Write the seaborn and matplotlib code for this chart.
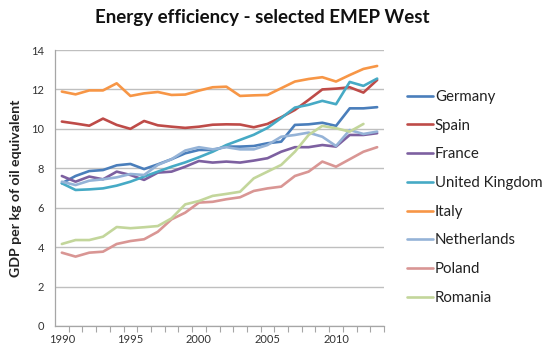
import numpy as np
import pandas as pd
import matplotlib
matplotlib.use("Agg")
import matplotlib.pyplot as plt
from matplotlib.ticker import MultipleLocator, FixedLocator
import seaborn as sns

years = list(range(1990, 2014))

germany = [7.24, 7.61, 7.86, 7.91, 8.15, 8.22, 7.96, 8.20, 8.46, 8.76, 8.93, 8.93,
           9.10, 9.10, 9.13, 9.27, 9.35, 10.20, 10.23, 10.31, 10.15, 11.04, 11.04, 11.10]
spain = [10.37, 10.27, 10.16, 10.52, 10.20, 10.00, 10.40, 10.18, 10.11, 10.05, 10.11, 10.21,
         10.23, 10.22, 10.08, 10.25, 10.59, 10.96, 11.47, 12.00, 12.04, 12.11, 11.84, 12.48]
france = [7.61, 7.32, 7.58, 7.44, 7.83, 7.66, 7.41, 7.78, 7.83, 8.08, 8.37, 8.29,
          8.34, 8.29, 8.39, 8.51, 8.84, 9.07, 9.07, 9.18, 9.10, 9.69, 9.69, 9.78]
united_kingdom = [7.24, 6.90, 6.93, 6.98, 7.12, 7.32, 7.58, 7.83, 8.08, 8.30, 8.56, 8.84,
                  9.18, 9.44, 9.70, 10.05, 10.55, 11.08, 11.22, 11.42, 11.25, 12.38, 12.18, 12.55]
italy = [11.89, 11.75, 11.95, 11.95, 12.31, 11.67, 11.80, 11.87, 11.72, 11.74, 11.94, 12.11,
         12.14, 11.67, 11.70, 11.72, 12.06, 12.40, 12.53, 12.62, 12.40, 12.73, 13.04, 13.19]
netherlands = [7.32, 7.15, 7.37, 7.44, 7.54, 7.71, 7.66, 8.17, 8.46, 8.90, 9.07, 8.96,
               9.07, 8.96, 8.96, 9.18, 9.60, 9.69, 9.81, 9.60, 9.13, 9.94, 9.74, 9.86]
poland = [3.72, 3.52, 3.72, 3.77, 4.16, 4.31, 4.40, 4.78, 5.41, 5.75, 6.26, 6.30,
          6.43, 6.53, 6.85, 6.98, 7.07, 7.61, 7.83, 8.34, 8.08, 8.46, 8.84, 9.07]
romania = [4.16, 4.36, 4.36, 4.53, 5.02, 4.96, 5.01, 5.07, 5.46, 6.17, 6.34, 6.60,
           6.70, 6.81, 7.49, 7.83, 8.17, 8.84, 9.69, 10.15, 10.03, 9.86, 10.25, np.nan]

countries = ["Germany", "Spain", "France", "United Kingdom", "Italy",
             "Netherlands", "Poland", "Romania"]
series = [germany, spain, france, united_kingdom, italy, netherlands, poland, romania]
colors = ["#4A7EBB", "#BE4B48", "#7D60A0", "#46AAC5", "#F79646",
          "#95B3D7", "#D99694", "#C3D69B"]

df = pd.DataFrame(
    [(c, y, v) for c, vals in zip(countries, series) for y, v in zip(years, vals)],
    columns=["country", "year", "value"],
)

sns.set_theme(style="white")
plt.rcParams["font.family"] = ["Lato", "DejaVu Sans"]

fig = plt.figure(figsize=(5.47, 3.53), dpi=100)
ax = fig.add_axes([55 / 547, 1 - 326 / 353, (384 - 55) / 547, (326 - 50) / 353])

sns.lineplot(data=df, x="year", y="value", hue="country", hue_order=countries,
             palette=colors, linewidth=1.9, ax=ax, legend=True)

ax.set_xlim(1989.5, 2013.5)
ax.set_ylim(0, 14)
ax.yaxis.set_major_locator(MultipleLocator(2))
ax.xaxis.set_major_locator(FixedLocator([1990, 1995, 2000, 2005, 2010]))
ax.xaxis.set_minor_locator(FixedLocator(np.arange(1990.5, 2013.6, 1)))
ax.grid(axis="y", color="#BFBFBF", linewidth=1.0)
ax.set_axisbelow(True)

for side in ["top", "right"]:
    ax.spines[side].set_visible(False)
for side in ["left", "bottom"]:
    ax.spines[side].set_color("#A6A6A6")
    ax.spines[side].set_linewidth(0.9)

ax.tick_params(axis="x", which="major", length=0, labelsize=8, colors="#333333", pad=6)
ax.tick_params(axis="x", which="minor", bottom=True, direction="out", length=4,
               width=0.8, color="#A6A6A6")
ax.tick_params(axis="y", length=0, labelsize=8, colors="#333333", pad=8)
ax.set_xlabel("")
ax.set_ylabel("GDP per kg of oil equivalent", fontsize=10.2, fontweight="bold",
              color="#222222")
ax.yaxis.set_label_coords(-0.1, 0.5)

fig.text(262 / 547, 1 - 18 / 353, "Energy efficiency - selected EMEP West",
         ha="center", va="center", fontsize=13.5, fontweight="bold", color="#111111")

handles, labels = ax.get_legend_handles_labels()
ax.legend(handles, labels, loc="upper left", bbox_to_anchor=(407 / 547, 1 - 90 / 353),
          bbox_transform=fig.transFigure, frameon=False, fontsize=10.8,
          handlelength=1.75, handletextpad=0.1, labelspacing=0.98,
          borderaxespad=0, borderpad=0)
for t in ax.get_legend().get_texts():
    t.set_color("#222222")

fig.savefig("out.png", dpi=100)
